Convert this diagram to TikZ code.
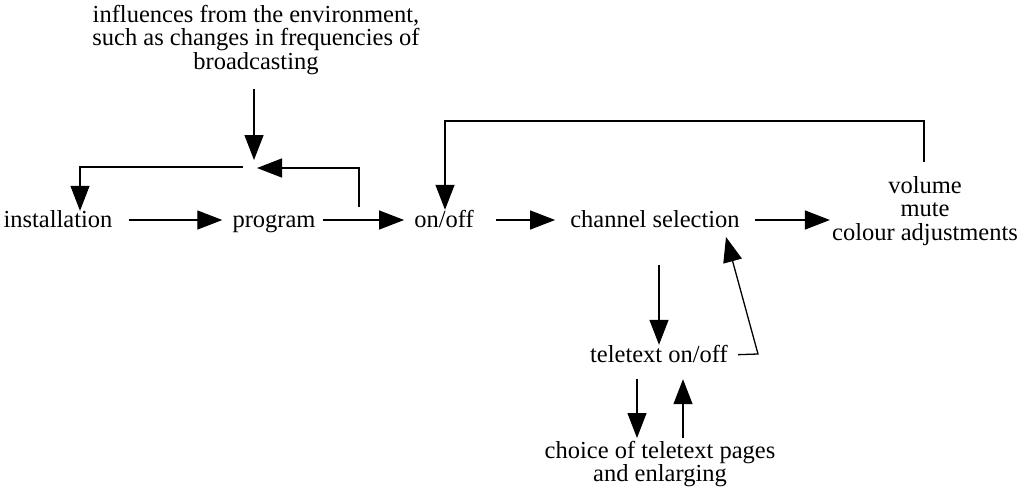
\documentclass[tikz,border=0pt]{standalone}
\usepackage{fontspec}
\setmainfont{Liberation Serif}
\usetikzlibrary{arrows.meta,calc}
\begin{document}
\begin{tikzpicture}[x=1pt,y=-1pt,
  every node/.style={font=\fontsize{24.5}{23.5}\selectfont, inner sep=0pt},
  lbl/.style={text height=14pt, text depth=0pt},
  multi/.style={align=center, anchor=north},
  link/.style={line width=1.3pt},
  arr/.style={link, -{Triangle[length=25pt,width=19pt]}}]
\useasboundingbox (0,0) rectangle (1028,496);

% text nodes
\node[multi] (env) at (256,5) {influences from the environment,\\such as changes in frequencies of\\broadcasting};
\node[lbl] (inst)  at (58,220)  {installation};
\node[lbl] (prog)  at (274,220) {program};
\node[lbl] (onoff) at (444,220) {on/off};
\node[lbl] (chan)  at (655,220) {channel selection};
\node[multi] (vol) at (925,176) {volume\\mute\\colour adjustments};
\node[lbl] (tele)  at (659,355) {teletext on/off};
\node[multi] (choice) at (660,441) {choice of teletext pages\\and enlarging};

% junction points of the feedback loops
\coordinate (merge)  at (254,160);
\coordinate (splitL) at (243,167);
\coordinate (fbstart) at (359,207);
\coordinate (fbend)  at (257,168);
\coordinate (vfb)    at (924,162);
\coordinate (fbtop)  at (445,121);
\coordinate (tfb)    at (758,354);
\coordinate (ctip)   at (726,237);

% environment influence and program feedback
\draw[arr, shorten <=14pt] (env.south -| merge) -- (merge);
\draw[arr, shorten >=2pt] (splitL) -| ($(inst.north)+(22,0)$);
\draw[arr] (fbstart) |- (fbend);

% main sequence
\draw[arr, shorten <=16pt, shorten >=10pt] (inst) -- (prog);
\draw[arr, shorten <=7pt, shorten >=10pt] (prog) -- (onoff);
\draw[arr, shorten <=22pt, shorten >=15pt] (onoff) -- (chan);
\draw[arr, shorten <=15pt, shorten >=2pt] (chan) -- (chan -| vol.west);

% volume feedback to on/off
\draw[arr, shorten >=3pt] (vfb) |- (fbtop) -- (onoff.north -| fbtop);

% teletext branch
\draw[arr, shorten <=38pt, shorten >=3pt] (tele.north |- chan.south) -- (tele.north);
\draw[arr, shorten <=10pt] (tele.east) -- (tfb) -- (ctip);
\draw[arr, shorten <=17pt, shorten >=3pt] ($(tele.south)+(-22,0)$) -- ($(choice.north)+(-23,0)$);
\draw[arr, shorten <=3pt, shorten >=17pt] ($(choice.north)+(23,0)$) -- ($(tele.south)+(24,0)$);
\end{tikzpicture}
\end{document}
